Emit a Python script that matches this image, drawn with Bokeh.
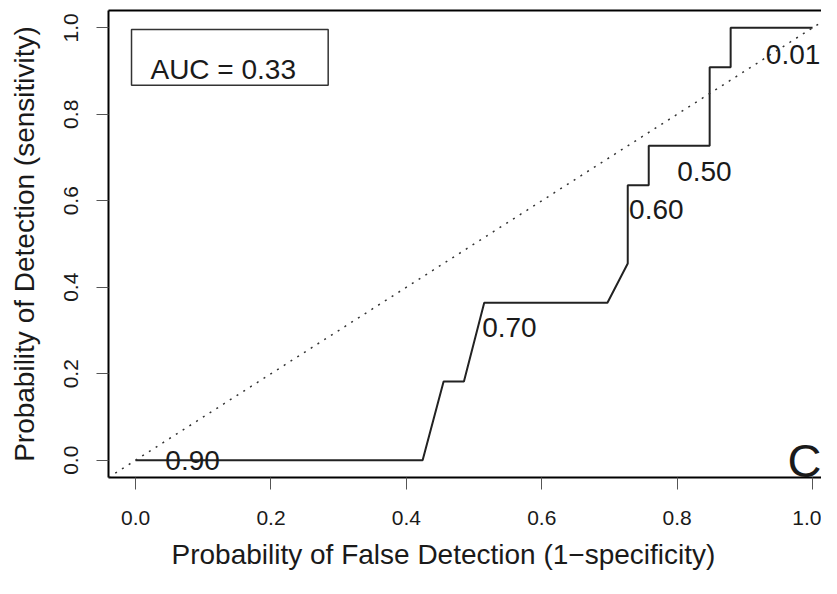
from bokeh.plotting import figure
from bokeh.models import FixedTicker, PrintfTickFormatter, Label, BoxAnnotation, Slope, LinearAxis, Title
from bokeh.core.properties import value
from bokeh.embed import file_html
from bokeh.resources import INLINE

# ROC curve points (false detection rate vs detection rate)
fpr = [0.0, 0.424, 0.455, 0.485, 0.515, 0.697, 0.727, 0.727, 0.758, 0.758, 0.848, 0.848, 0.879, 0.879, 1.0]
tpr = [0.0, 0.0, 0.182, 0.182, 0.364, 0.364, 0.455, 0.636, 0.636, 0.727, 0.727, 0.909, 0.909, 1.0, 1.0]

# threshold labels along the curve
thresholds = ["0.90", "0.70", "0.60", "0.50", "0.01"]
thr_fpr = [0.044, 0.512, 0.729, 0.800, 0.931]
thr_tpr = [0.0, 0.306, 0.579, 0.667, 0.938]

ticks = [0.0, 0.2, 0.4, 0.6, 0.8, 1.0]
auc_text = "AUC = 0.33"
panel_letter = "C"
x_title = "Probability of False Detection (1\u2212specificity)"
y_title = "Probability of Detection (sensitivity)"

FONT = "Liberation Sans"
INK = "#1a1a1a"

p = figure(width=821, height=578, x_range=(-0.04, 1.0132), y_range=(-0.04, 1.04),
           output_backend="svg", toolbar_location=None,
           min_border_left=108, min_border_right=0, min_border_top=10, min_border_bottom=100,
           y_axis_label=y_title)

p.grid.visible = False
p.outline_line_color = None
p.background_fill_color = "white"

for ax in (p.xaxis[0], p.yaxis[0]):
    ax.ticker = FixedTicker(ticks=ticks)
    ax.formatter = PrintfTickFormatter(format="%.1f")
    ax.axis_line_color = "black"
    ax.axis_line_width = 2
    ax.major_tick_in = 0
    ax.major_tick_out = 12
    ax.major_tick_line_color = "#555555"
    ax.major_tick_line_width = 1
    ax.minor_tick_line_color = None
    ax.major_label_text_font = FONT
    ax.major_label_text_font_size = "21px"
    ax.major_label_text_color = INK
    ax.axis_label_text_font = FONT
    ax.axis_label_text_font_size = "28px"
    ax.axis_label_text_font_style = "normal"
    ax.axis_label_text_color = INK

p.xaxis.major_label_standoff = 21
p.yaxis.major_label_orientation = "vertical"
p.yaxis.major_label_standoff = 18
p.yaxis.axis_label_standoff = 22

# top edge of the box
top = LinearAxis(ticker=FixedTicker(ticks=[]), major_tick_out=0, major_tick_in=0,
                 major_label_standoff=0, major_label_text_font_size="0px",
                 axis_line_color="black", axis_line_width=2, minor_tick_line_color=None)
p.add_layout(top, "above")

# x axis title sits a bit left of centre, as in the original
p.add_layout(Title(text=x_title, align="left", offset=63, standoff=18,
                   text_font=FONT, text_font_size="28px", text_font_style="normal",
                   text_color=INK), "below")

# chance line
p.add_layout(Slope(gradient=1, y_intercept=0, line_color="#333333", line_width=1.5, line_dash="2 6"))

p.line(fpr, tpr, line_color="#222222", line_width=2)

p.text(x=thr_fpr, y=thr_tpr, text=thresholds, text_font=value(FONT), text_font_size="28px",
       text_color=INK, text_align="left", text_baseline="alphabetic")

p.add_layout(BoxAnnotation(left=-0.006, right=0.2845, top=0.996, bottom=0.867,
                           fill_color=None, line_color="#333333", line_alpha=1.0, line_width=1.5))
p.add_layout(Label(x=0.022, y=0.9036, text=auc_text, text_font=FONT, text_font_size="28px",
                   text_color=INK, text_align="left", text_baseline="alphabetic"))

p.add_layout(Label(x=1.013, y=0.0, text=panel_letter, text_font=FONT, text_font_size="47px",
                   text_color=INK, text_align="right", text_baseline="alphabetic"))

open("out.html", "w").write(file_html(p, INLINE))
